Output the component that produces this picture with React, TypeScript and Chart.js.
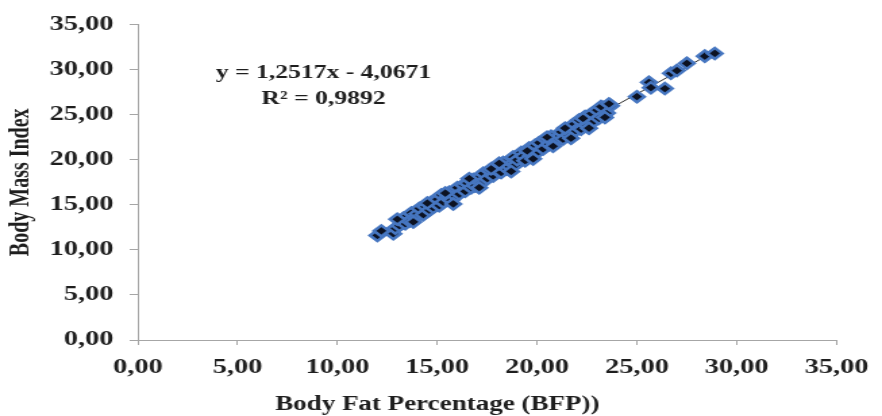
import React, { useEffect, useRef } from "react";
import { Chart, registerables } from "chart.js";

Chart.register(...registerables);

// Body Fat Percentage (x) and Body Mass Index (y)
const bfp = [
  12.0, 12.2, 12.8, 12.9, 13.1, 13.3, 13.4, 13.6, 13.7, 13.9, 14.0, 14.1, 14.3, 14.4, 14.6, 14.7, 14.8,
  15.0, 15.1, 15.2, 15.3, 15.5, 15.6, 15.7, 15.9, 16.0, 16.1, 16.3, 16.4, 16.5, 16.7, 16.8, 16.9,
  17.0, 17.2, 17.3, 17.5, 17.6, 17.8, 17.9, 18.0, 18.2, 18.3, 18.5, 18.6, 18.8, 18.9, 19.0, 19.2,
  19.3, 19.4, 19.6, 19.7, 19.9, 20.0, 20.1, 20.3, 20.4, 20.6, 20.7, 20.9, 21.0, 21.2, 21.3, 21.5,
  21.6, 21.8, 21.9, 22.1, 22.2, 22.4, 22.5, 22.7, 22.8, 23.0, 23.1, 23.3, 23.5, 23.7, 25.0, 25.6,
  25.7, 26.4, 26.7, 27.0, 27.5, 28.4, 28.9,
  13.0, 13.8, 14.5, 15.4, 15.8, 16.6, 17.1, 17.7, 18.1, 18.7, 19.5, 19.8, 20.5, 20.8, 21.4, 21.7,
  22.3, 22.6, 23.2, 23.4, 23.6,
];
const bmi = [
  11.6, 12.1, 11.8, 12.4, 12.7, 13.5, 12.9, 13.2, 14.1, 13.6, 14.0, 14.6, 13.9, 14.8, 14.4, 15.3, 14.7,
  15.6, 14.9, 16.1, 15.3, 15.8, 16.4, 15.5, 16.0, 16.9, 16.2, 17.2, 16.5, 17.4, 16.9, 17.8, 17.1,
  17.9, 17.4, 18.5, 17.9, 18.8, 18.2, 19.1, 18.8, 18.6, 19.7, 19.0, 19.3, 20.3, 19.4, 20.0, 20.8,
  20.4, 19.9, 21.3, 20.5, 21.6, 20.8, 21.9, 21.2, 22.3, 21.7, 22.6, 21.9, 22.4, 23.1, 22.3, 23.4,
  22.7, 23.9, 23.2, 24.4, 23.4, 24.8, 23.8, 25.1, 24.2, 25.5, 24.6, 25.8, 25.2, 26.0, 27.0, 28.6,
  28.0, 27.9, 29.6, 29.9, 30.7, 31.5, 31.8,
  13.4, 13.1, 15.2, 16.3, 15.1, 17.9, 16.9, 19.0, 19.6, 18.7, 21.0, 20.1, 22.5, 21.5, 23.5, 22.4,
  24.6, 23.5, 25.9, 24.7, 26.2,
];

const axisMin = 0;
const axisMax = 35;
const axisStep = 5;

const yTitle = "Body Mass Index";
const xTitle = "Body Fat Percentage (BFP))";
const equationText = "y = 1,2517x - 4,0671";
const r2Text = "R² = 0,9892";

const FONT = "'Liberation Serif', 'Times New Roman', serif";
const TEXT = "#1e1e1e";
const AXIS = "#a6a6a6";
const STRETCH = 1.35;
const W = 882;
const H = 416;

function leastSquares(xs: number[], ys: number[]) {
  const n = xs.length;
  let sx = 0, sy = 0, sxx = 0, sxy = 0;
  for (let i = 0; i < n; i++) {
    sx += xs[i]; sy += ys[i]; sxx += xs[i] * xs[i]; sxy += xs[i] * ys[i];
  }
  const slope = (n * sxy - sx * sy) / (n * sxx - sx * sx);
  const intercept = (sy - slope * sx) / n;
  return { slope, intercept };
}

const fmt = (v: any) => Number(v).toFixed(2).replace(".", ",");

export default function App() {
  const ref = useRef<HTMLCanvasElement>(null);

  useEffect(() => {
    document.body.style.margin = "0";
    const canvas = ref.current!;
    const { slope, intercept } = leastSquares(bfp, bmi);
    const xmin = Math.min(...bfp);
    const xmax = Math.max(...bfp);

    const annot = {
      id: "annot",
      afterDraw(chart: any) {
        const ctx = chart.ctx;
        const xs = chart.scales.x;
        const ys = chart.scales.y;
        ctx.save();
        ctx.fillStyle = TEXT;
        ctx.textAlign = "center";
        ctx.textBaseline = "middle";
        ctx.font = `bold 19px ${FONT}`;
        ctx.fillText(equationText, xs.getPixelForValue(9.3), ys.getPixelForValue(29.6));
        ctx.fillText(r2Text, xs.getPixelForValue(9.3), ys.getPixelForValue(26.7));
        ctx.font = `bold 20px ${FONT}`;
        ctx.fillText(xTitle, xs.getPixelForValue(15), 405);
        ctx.restore();
      },
    };

    const chart = new Chart(canvas, {
      type: "scatter",
      data: {
        datasets: [
          {
            type: "scatter",
            data: bfp.map((x, i) => ({ x, y: bmi[i] })),
            backgroundColor: "#0c1222",
            borderColor: "#4676c0",
            borderWidth: 2.5,
            pointStyle: "rectRot",
            pointRadius: 5.5,
            order: 0,
          } as any,
          {
            type: "line",
            data: [
              { x: xmin, y: intercept + slope * xmin },
              { x: xmax, y: intercept + slope * xmax },
            ],
            borderColor: "#2a2a2a",
            borderWidth: 1,
            pointRadius: 0,
            fill: false,
            order: 1,
          } as any,
        ],
      },
      options: {
        responsive: false,
        devicePixelRatio: 1,
        animation: false,
        layout: { padding: { left: 0, top: 23, right: 23, bottom: 0 } },
        plugins: { legend: { display: false }, tooltip: { enabled: false } },
        scales: {
          x: {
            type: "linear",
            min: axisMin,
            max: axisMax,
            ticks: {
              stepSize: axisStep,
              callback: fmt,
              font: { family: FONT, size: 21, weight: "bold" },
              color: TEXT,
              padding: 10,
              maxRotation: 0,
              autoSkip: false,
            },
            grid: { display: true, drawOnChartArea: false, drawTicks: true, tickLength: 5, color: AXIS },
            border: { display: true, color: AXIS },
            afterFit(s: any) { s.height = 76; },
          },
          y: {
            type: "linear",
            min: axisMin,
            max: axisMax,
            ticks: {
              stepSize: axisStep,
              callback: fmt,
              font: { family: FONT, size: 21, weight: "bold" },
              color: TEXT,
              padding: 12,
            },
            grid: { display: true, drawOnChartArea: false, drawTicks: true, tickLength: 6, color: AXIS },
            border: { display: true, color: AXIS },
            title: {
              display: true,
              text: yTitle,
              font: { family: FONT, size: 20, weight: "bold" },
              color: TEXT,
              padding: { top: 4, bottom: 0 },
            },
            afterFit(s: any) { s.width = 102; },
          },
        },
      } as any,
      plugins: [annot],
    });
    return () => chart.destroy();
  }, []);

  return (
    <div style={{ width: W, height: H }}>
      <canvas
        ref={ref}
        width={Math.round(W / STRETCH)}
        height={H}
        style={{ width: `${W}px`, height: `${H}px`, display: "block" }}
      />
    </div>
  );
}
